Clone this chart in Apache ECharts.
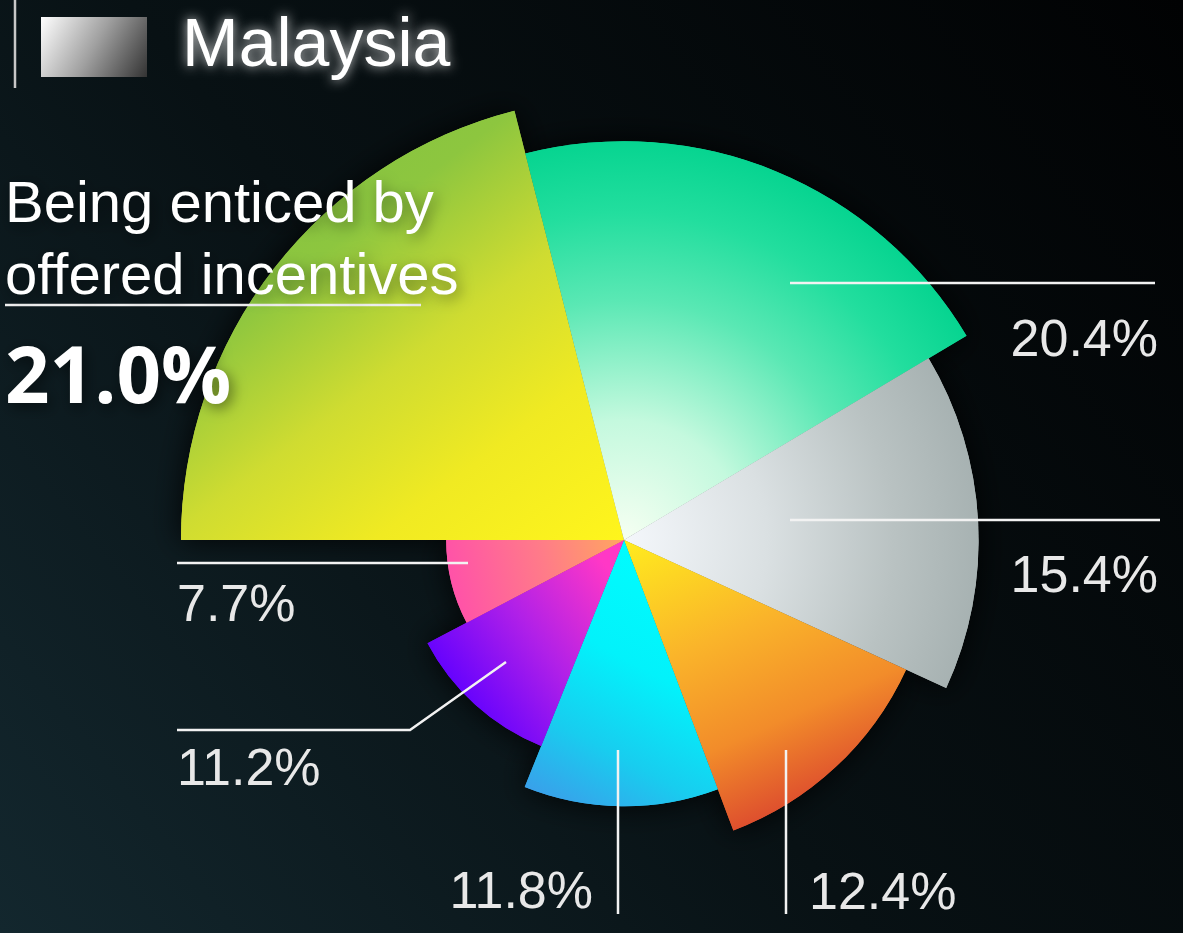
<!DOCTYPE html>
<html>
<head>
<meta charset="utf-8">
<script src="https://cdn.jsdelivr.net/npm/echarts@6/dist/echarts.min.js"></script>
<style>
html,body{margin:0;padding:0;background:#000;}
#chart{width:1183px;height:933px;}
</style>
</head>
<body>
<div id="chart"></div>
<script>
// ---- data ----
const seriesName = 'Malaysia';
const categories = ['Being enticed by\noffered incentives', '', '', '', '', '', ''];
const values = [21.0, 20.4, 15.4, 12.4, 11.8, 11.2, 7.7];

// ---- layout / style ----
const CX = 624, CY = 540;
const R_MAX = 443, R_STEP = 44.2;
// radius by rank of value (largest -> R_MAX)
const ranks = values.map(v => values.filter(w => w > v).length);
const radii = ranks.map(k => R_MAX - k * R_STEP);

function stops(list) { return list.map(([o, c]) => ({ offset: o, color: c })); }
function lin(x1, y1, x2, y2, s) {
  return { type: 'linear', global: true, x: CX + x1, y: CY + y1, x2: CX + x2, y2: CY + y2, colorStops: stops(s) };
}
function rad(dx, dy, r, s) {
  return { type: 'radial', global: true, x: CX + dx, y: CY + dy, r: r, colorStops: stops(s) };
}
const sliceColors = [
  lin(0, 0, -300, -400, [[0, '#fff51c'], [0.3, '#f0ea22'], [0.55, '#cfdc31'], [0.82, '#8dc63f'], [1, '#86c440']]),
  rad(0, 0, 400, [[0, '#f6fff2'], [0.3, '#c4f9de'], [0.6, '#5ae8b4'], [0.82, '#22de9e'], [1, '#06d490']]),
  rad(0, 0, 360, [[0, '#f4f7fb'], [0.4, '#dae0e2'], [0.75, '#b9c2c2'], [1, '#a6b1b1']]),
  lin(0, 0, 130, 290, [[0, '#ffec1e'], [0.4, '#fab42a'], [0.72, '#f28c2a'], [1, '#dc4a2e']]),
  lin(60, 0, -80, 260, [[0, '#00ffff'], [0.45, '#02f2fb'], [0.75, '#18cdef'], [1, '#3a9fea']]),
  lin(-30, 10, -190, 130, [[0, '#ff38c6'], [0.5, '#b020e8'], [1, '#6000ff']]),
  lin(0, 0, -178, 40, [[0, '#ffa660'], [0.45, '#ff7c88'], [1, '#ff50aa']])
];

// label anchor positions (layout only)
const labelPlacement = [
  { x: 5, y: 170, align: 'left', verticalAlign: 'top', line: [[421, 305], [421, 305], [5, 305]] },
  { x: 1158, y: 342, align: 'right', verticalAlign: 'middle', line: [[790, 283], [790, 283], [1155, 283]] },
  { x: 1158, y: 578, align: 'right', verticalAlign: 'middle', line: [[790, 520], [790, 520], [1160, 520]] },
  { x: 809, y: 895, align: 'left', verticalAlign: 'middle', line: [[786, 750], [786, 750], [786, 914]] },
  { x: 593, y: 894, align: 'right', verticalAlign: 'middle', line: [[618, 750], [618, 750], [618, 914]] },
  { x: 177, y: 771, align: 'left', verticalAlign: 'middle', line: [[506, 662], [410, 730], [177, 730]] },
  { x: 177, y: 607, align: 'left', verticalAlign: 'middle', line: [[468, 563], [468, 563], [177, 563]] }
];

const FONT = '"Liberation Sans", Arial, sans-serif';

// layer: 'shadow' (under), 'fill' (coloured sector), 'label' (labels + guide lines on top)
function sliceSeries(i, layer) {
  const isLabel = layer === 'label';
  return {
    type: 'pie',
    name: (i === 0 && layer === 'fill') ? seriesName : seriesName + '-' + layer + '-' + i,
    center: [CX, CY],
    radius: [0, radii[i]],
    startAngle: 180,
    clockwise: true,
    avoidLabelOverlap: false,
    animation: false,
    silent: layer !== 'fill',
    z: layer === 'shadow' ? 1 : (layer === 'fill' ? 2 : 3),
    emphasis: { disabled: true },
    itemStyle: { borderWidth: 0 },
    label: {
      show: false,
      position: 'outside',
      color: '#e8e8e8',
      fontFamily: FONT,
      fontSize: 52,
      textBorderWidth: 0,
      formatter: (p) => {
        const pct = p.value.toFixed(1) + '%';
        if (p.name) {
          return p.name.split('\n').map(s => '{t|' + s + '}').join('\n') + '\n{b|' + pct + '}';
        }
        return pct;
      },
      rich: {
        t: { fontSize: 58, lineHeight: 72, color: '#ffffff', fontFamily: FONT,
             textShadowColor: 'rgba(0,0,0,0.45)', textShadowBlur: 14, textShadowOffsetX: 3, textShadowOffsetY: 4 },
        b: { fontSize: 78, lineHeight: 134, color: '#ffffff', fontWeight: 'bold', fontFamily: '"Open Sans", sans-serif',
             textShadowColor: 'rgba(0,0,0,0.5)', textShadowBlur: 14, textShadowOffsetX: 3, textShadowOffsetY: 4 }
      }
    },
    labelLine: {
      show: false,
      smooth: false,
      length: 10,
      length2: 10,
      lineStyle: { color: '#f2f2f2', width: 2.5 }
    },
    labelLayout: isLabel ? function (p) {
      const L = labelPlacement[p.dataIndex];
      return { x: L.x, y: L.y, align: L.align, verticalAlign: L.verticalAlign, labelLinePoints: L.line };
    } : undefined,
    data: values.map((v, j) => {
      const on = j === i;
      let style;
      if (!on || isLabel) style = { color: 'rgba(0,0,0,0)', borderWidth: 0 };
      else if (layer === 'shadow') style = { color: sliceColors[j], shadowBlur: 30, shadowColor: 'rgba(0,0,0,0.9)' };
      else style = { color: sliceColors[j] };
      return {
        value: v,
        name: categories[j],
        itemStyle: style,
        label: { show: on && isLabel },
        labelLine: { show: on && isLabel }
      };
    })
  };
}

const series = [];
['shadow', 'fill', 'label'].forEach(layer => {
  for (let i = 0; i < values.length; i++) series.push(sliceSeries(i, layer));
});

const chart = echarts.init(document.getElementById('chart'), null, { renderer: 'canvas' });
chart.setOption({
  animation: false,
  backgroundColor: {
    type: 'linear', x: 0, y: 1, x2: 1, y2: 0,
    colorStops: stops([[0, '#13272e'], [0.45, '#081114'], [1, '#010203']])
  },
  legend: {
    left: 41,
    top: 13,
    padding: 0,
    itemWidth: 106,
    itemHeight: 60,
    selectedMode: false,
    data: [{
      name: seriesName,
      icon: 'rect',
      itemStyle: {
        color: { type: 'linear', x: 0, y: 0, x2: 1, y2: 1,
                 colorStops: stops([[0, '#ffffff'], [0.5, '#a0a0a0'], [1, '#333333']]) },
        borderWidth: 0
      }
    }],
    textStyle: {
      color: '#ffffff',
      fontSize: 68,
      fontFamily: FONT,
      padding: [0, 0, 0, 30],
      textShadowColor: 'rgba(255,255,255,0.85)',
      textShadowBlur: 12
    }
  },
  graphic: [{
    type: 'line',
    shape: { x1: 15, y1: 0, x2: 15, y2: 88 },
    style: { stroke: '#c8c8c8', lineWidth: 2.5 },
    silent: true
  }],
  series: series
});
</script>
</body>
</html>
